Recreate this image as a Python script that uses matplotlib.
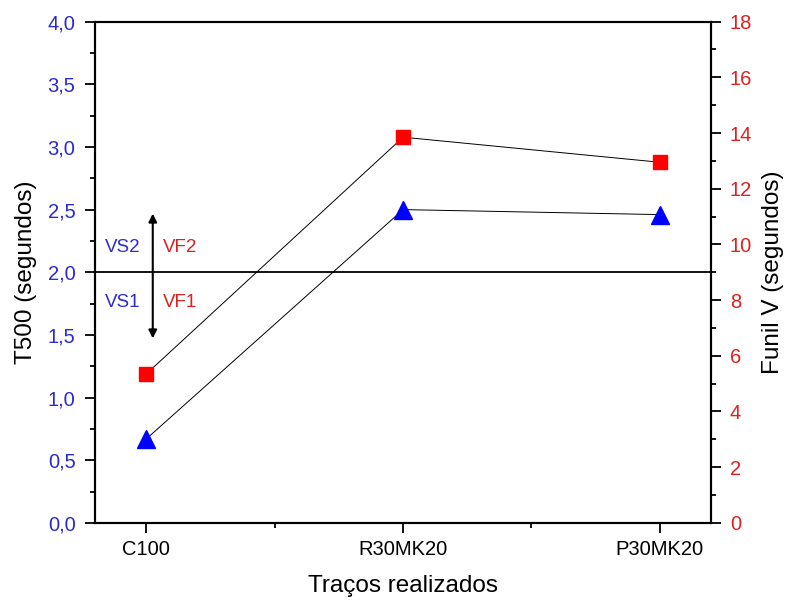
import matplotlib.pyplot as plt
from matplotlib.ticker import MultipleLocator, FixedLocator

plt.rcParams['font.family'] = ['Liberation Sans', 'DejaVu Sans']

# data
tracos = ['C100', 'R30MK20', 'P30MK20']
t500 = [0.67, 2.50, 2.46]       # left axis, seconds
funil_v = [5.35, 13.85, 12.95]  # right axis, seconds

x = list(range(len(tracos)))

blue_txt = '#2b2bd0'
red_txt = '#e02020'

fig = plt.figure(figsize=(7.85, 6.01), dpi=100)
ax = fig.add_axes([0.121, 0.130, 0.785, 0.834])
ax2 = ax.twinx()

# T500 - blue triangles
ax.plot(x, t500, color='black', lw=0.7, zorder=2)
ax.plot(x, t500, ls='none', marker='^', ms=13, color='#0000ff', zorder=3)

# Funil V - red squares
ax2.plot(x, funil_v, color='black', lw=0.7, zorder=2)
ax2.plot(x, funil_v, ls='none', marker='s', ms=10.3, color='#ff0000', zorder=3)

# limit line between classes
ax.axhline(2.0, color='black', lw=1.3)

# double arrow and class labels
ax.annotate('', xy=(0.025, 2.49), xytext=(0.025, 1.45),
            arrowprops=dict(arrowstyle='<|-|>', color='black', lw=1.5,
                            mutation_scale=12))
ax.text(-0.16, 2.20, 'VS2', color=blue_txt, fontsize=13.5, va='center')
ax.text(-0.16, 1.76, 'VS1', color=blue_txt, fontsize=13.5, va='center')
ax.text(0.066, 2.20, 'VF2', color=red_txt, fontsize=13.5, va='center')
ax.text(0.066, 1.76, 'VF1', color=red_txt, fontsize=13.5, va='center')

ax.set_xlim(-0.2, 2.2)
ax.set_ylim(0, 4)
ax2.set_ylim(0, 18)

ax.set_xticks(x)
ax.set_xticklabels(tracos)
ax.xaxis.set_minor_locator(FixedLocator([0.5, 1.5]))
ax.yaxis.set_major_locator(MultipleLocator(0.5))
ax.yaxis.set_minor_locator(MultipleLocator(0.25))
ax.yaxis.set_major_formatter(lambda v, p: f'{v:.1f}'.replace('.', ','))
ax2.yaxis.set_major_locator(MultipleLocator(2))
ax2.yaxis.set_minor_locator(MultipleLocator(1))

ax.tick_params(axis='both', which='major', length=7, width=1.3, labelsize=14.5)
ax.tick_params(axis='both', which='minor', length=3.5, width=1.3)
ax.tick_params(axis='y', which='major', pad=7, labelcolor=blue_txt)
ax.tick_params(axis='x', which='major', pad=5)
ax2.tick_params(axis='y', which='major', length=7, width=1.3, labelsize=14.5,
                pad=6.5, labelcolor=red_txt)
ax2.tick_params(axis='y', which='minor', length=3.5, width=1.3)

for a in (ax, ax2):
    for s in a.spines.values():
        s.set_linewidth(1.5)

ax.set_xlabel('Traços realizados', fontsize=17.5, labelpad=12)
ax.set_ylabel('T500 (segundos)', fontsize=17.5, labelpad=8)
ax2.set_ylabel('Funil V (segundos)', fontsize=17.5, labelpad=7)

plt.savefig('out.png', dpi=100)
